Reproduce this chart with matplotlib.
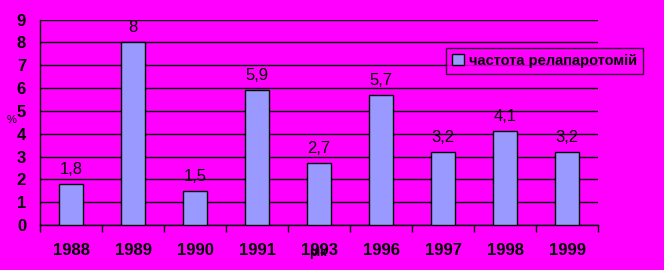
import matplotlib
matplotlib.use("Agg")
import matplotlib.pyplot as plt
import numpy as np

years = ["1988", "1989", "1990", "1991", "1993", "1996", "1997", "1998", "1999"]
values = [1.8, 8, 1.5, 5.9, 2.7, 5.7, 3.2, 4.1, 3.2]
labels = ["1,8", "8", "1,5", "5,9", "2,7", "5,7", "3,2", "4,1", "3,2"]
series_name = "частота релапаротомій"

plt.rcParams['font.family'] = ['Liberation Sans', 'DejaVu Sans']
bg = "#FF00FF"
fig = plt.figure(figsize=(6.64, 2.70), dpi=100, facecolor=bg)
ax = fig.add_axes([40/664, 1-225/270, (598-40)/664, (225-19.5)/270])
ax.set_facecolor(bg)

x = np.arange(len(years))
bars = ax.bar(x, values, width=0.4, color="#9999FF", edgecolor="black", linewidth=1,
              label=series_name, zorder=3)
for xi, v, lab in zip(x, values, labels):
    ax.annotate(lab, (xi, v), xytext=(0, 5), textcoords="offset points",
                ha="center", va="bottom", fontsize=12, color="black")

ax.set_xlim(-0.5, len(years) - 0.5)
ax.set_ylim(0, 9)
ax.set_yticks(range(0, 10))
ax.yaxis.grid(True, color="black", linewidth=1, zorder=0)
ax.set_axisbelow(True)
ax.tick_params(axis="y", length=0, pad=10, labelsize=12)
for t in ax.get_yticklabels():
    t.set_fontweight("bold")

ax.set_xticks(x)
ax.set_xticklabels(years, fontsize=12, fontweight="bold")
ax.set_xticks(np.arange(-0.5, len(years)), minor=True)
ax.tick_params(axis="x", which="major", length=0, pad=13)
ax.tick_params(axis="x", which="minor", length=5, width=1, color="black", direction="out")

for s in ["top", "right"]:
    ax.spines[s].set_visible(False)
for s in ["left", "bottom"]:
    ax.spines[s].set_color("black")
    ax.spines[s].set_linewidth(1)

fig.text(318/664, 1-253/270, "рік", fontsize=9, fontweight="bold", ha="center", va="center")
fig.text(12/664, 1-120/270, "%", fontsize=8, ha="center", va="center")

leg = ax.legend(loc="upper left", bbox_to_anchor=(446/664, 1-48/270), bbox_transform=fig.transFigure,
                frameon=True, fancybox=False, facecolor=bg, edgecolor="black",
                prop={"weight": "bold", "size": 10.5}, handlelength=0.8, handleheight=0.8,
                handletextpad=0.4, borderpad=0.4, borderaxespad=0)
leg.get_frame().set_linewidth(1)

fig.savefig("out.png", dpi=100, facecolor=bg)
